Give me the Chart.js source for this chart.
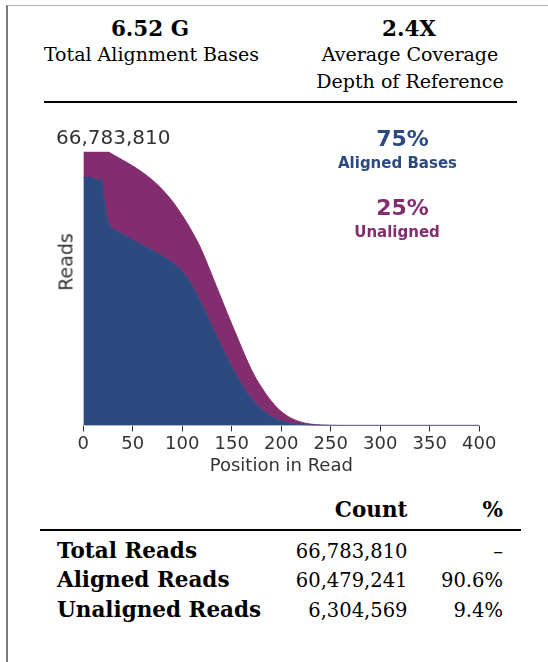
<!DOCTYPE html>
<html>
<head>
<meta charset="utf-8">
<script src="https://cdn.jsdelivr.net/npm/chart.js@4.4.1/dist/chart.umd.min.js"></script>
<style>
  body { margin: 0; background: #fff; }
  #page { position: relative; width: 548px; height: 662px; overflow: hidden; font-family: "DejaVu Serif", serif; color: #000; }
  .frame { position: absolute; left: 6px; top: 5px; right: -2px; bottom: -2px; border-top: 1px solid #b4b4b4; border-left: 2px solid #7a7a7a; }
  .t { position: absolute; white-space: nowrap; line-height: 1; }
  .rule { position: absolute; background: #000; height: 1.5px; }
  #chartBox { position: absolute; left: 40px; top: 140px; width: 470px; height: 345px; }
</style>
</head>
<body>
<div id="page">
  <div class="frame"></div>
  <div class="rule" style="left:44px; top:101px; width:473px;"></div>
  <div class="rule" style="left:40px; top:529px; width:481px;"></div>
  <div id="chartBox"><canvas id="readsChart" width="470" height="345"></canvas></div>
</div>
<script>
// read-length distribution, values in millions of reads
const positions = [0, 10, 11, 18, 19, 20, 21, 22, 23, 25, 28, 32, 40, 50, 60, 70, 80, 90, 95, 100, 105, 110, 115, 120, 125, 130, 135, 140, 145, 150, 155, 160, 165, 170, 175, 180, 185, 190, 195, 200, 205, 210, 220, 230, 240, 250, 260, 300, 350, 400];
const alignedReads = [60.5, 60.5, 59.9, 59.9, 59.5, 57.5, 55.3, 53.3, 51.8, 49.8, 48.4, 47.6, 46.6, 45.3, 44.0, 42.7, 41.3, 39.8, 38.8, 37.6, 36.0, 34.0, 31.8, 29.4, 26.9, 24.3, 21.7, 19.1, 16.6, 14.2, 12.0, 10.0, 8.2, 6.6, 5.2, 4.0, 3.0, 2.2, 1.6, 1.1, 0.75, 0.5, 0.22, 0.1, 0.05, 0.03, 0.02, 0.02, 0.02, 0.02];
const totalReads = [66.78, 66.78, 66.78, 66.78, 66.78, 66.78, 66.78, 66.78, 66.78, 66.78, 66.35, 65.8, 64.7, 63.3, 61.7, 59.8, 57.5, 54.7, 53.0, 51.2, 49.3, 47.2, 45.0, 42.5, 39.6, 36.6, 33.6, 30.6, 27.6, 24.7, 21.8, 18.9, 16.1, 13.5, 11.2, 9.3, 7.5, 5.9, 4.5, 3.4, 2.5, 1.75, 0.8, 0.32, 0.12, 0.04, 0.02, 0.02, 0.02, 0.02];
const maxReads = 66.78381;
const xTicks = [0, 50, 100, 150, 200, 250, 300, 350, 400];

const tableRows     = ["Total Reads", "Aligned Reads", "Unaligned Reads"];
const tableCounts   = ["66,783,810", "60,479,241", "6,304,569"];
const tablePercents = ["\u2013", "90.6%", "9.4%"];

const BLUE = "#2d4a80";
const PURPLE = "#822d6d";

const page = document.getElementById("page");

// put a text with its baseline at y (DejaVu ascent ~0.846 em with line-height 1)
function put(text, x, y, size, align, style) {
  const el = document.createElement("div");
  el.className = "t";
  el.textContent = text;
  el.style.fontSize = size + "px";
  el.style.top = (y - 0.846 * size) + "px";
  if (align === "right") {
    el.style.right = (548 - x) + "px";
  } else if (align === "center") {
    el.style.left = x + "px";
    el.style.transform = "translateX(-50%)";
  } else {
    el.style.left = x + "px";
  }
  Object.assign(el.style, style || {});
  page.appendChild(el);
  return el;
}

const bold = { fontWeight: "bold" };
const sans = { fontFamily: "'DejaVu Sans', sans-serif" };

// header stats
put("6.52 G", 150, 36, 21.5, "center", bold);
put("Total Alignment Bases", 151.5, 61, 19, "center");
put("2.4X", 409, 36, 21.5, "center", bold);
put("Average Coverage", 410, 61, 19, "center");
put("Depth of Reference", 410, 88, 19, "center");

// chart annotations
put("66,783,810", 56, 144, 20, "left", Object.assign({ color: "#333" }, sans));
put("75%", 402.5, 147, 22, "center", Object.assign({ color: BLUE, fontWeight: "bold" }, sans));
put("Aligned Bases", 397.5, 169, 15, "center", Object.assign({ color: BLUE, fontWeight: "bold" }, sans));
put("25%", 402.5, 216, 22, "center", Object.assign({ color: PURPLE, fontWeight: "bold" }, sans));
put("Unaligned", 397, 238, 15, "center", Object.assign({ color: PURPLE, fontWeight: "bold" }, sans));

// y axis title, drawn off-centre like the original
const yTitle = put("Reads", 66, 262, 19, "left", Object.assign({ color: "#333" }, sans));
yTitle.style.top = "262px";
yTitle.style.transform = "translate(-50%, -50%) rotate(-90deg)";

// table
put("Count", 407.5, 517, 21.5, "right", bold);
put("%", 503, 517, 21.5, "right", bold);
tableRows.forEach((name, i) => {
  const y = 558 + i * 29.5;
  put(name, 57, y, 21.5, "left", bold);
  put(tableCounts[i], 407.5, y, 19.5, "right");
  put(tablePercents[i], 503, y, 19.5, "right");
});

new Chart(document.getElementById("readsChart"), {
  type: "line",
  data: {
    datasets: [
      {
        label: "Aligned",
        data: positions.map((p, i) => ({ x: p, y: alignedReads[i] })),
        fill: "origin",
        backgroundColor: BLUE,
        borderColor: BLUE,
        borderWidth: 1,
        pointRadius: 0,
        cubicInterpolationMode: "monotone",
      },
      {
        label: "Unaligned",
        data: positions.map((p, i) => ({ x: p, y: totalReads[i] })),
        fill: "-1",
        backgroundColor: PURPLE,
        borderColor: PURPLE,
        borderWidth: 1,
        pointRadius: 0,
        cubicInterpolationMode: "monotone",
      },
    ],
  },
  options: {
    responsive: false,
    animation: false,
    devicePixelRatio: 1,
    layout: { padding: { top: 11.7, right: 30.7, left: 0, bottom: 0 } },
    plugins: { legend: { display: false }, tooltip: { enabled: false } },
    scales: {
      x: {
        type: "linear",
        min: 0,
        max: 400,
        afterBuildTicks: (scale) => { scale.ticks = xTicks.map((v) => ({ value: v })); },
        afterFit: (scale) => { scale.height = 59.5; },
        ticks: { color: "#333", font: { family: "DejaVu Sans", size: 18 }, padding: 2, maxRotation: 0 },
        grid: { display: true, drawOnChartArea: false, drawTicks: true, tickLength: 6, color: "#333" },
        border: { display: true, color: "#c4c6d2", width: 1 },
        title: { display: true, text: "Position in Read", color: "#333", font: { family: "DejaVu Sans", size: 18 }, padding: { top: 0, bottom: 8 } },
      },
      y: {
        min: 0,
        max: maxReads,
        afterFit: (scale) => { scale.width = 43.3; },
        ticks: { display: false },
        grid: { display: false },
        border: { display: false },
        title: { display: false },
      },
    },
  },
});
</script>
</body>
</html>
